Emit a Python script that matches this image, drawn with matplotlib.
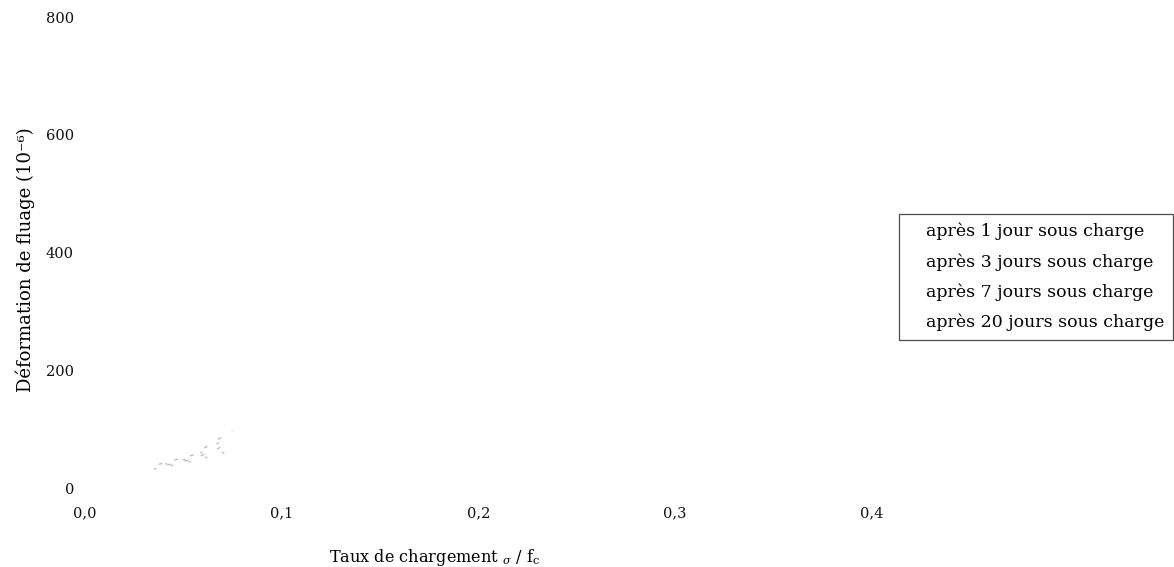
import matplotlib
matplotlib.use("Agg")
import matplotlib.pyplot as plt

plt.rcParams['font.family'] = ['DejaVu Serif']
plt.rcParams['mathtext.fontset'] = 'dejavuserif'

# taux de chargement sigma / fc
taux = [0.035, 0.055, 0.075]
# déformation de fluage (1e-6) (traits très pâles)
apres_1j = [32, 46, 64]
apres_3j = [34, 49, 78]
apres_7j = [36, 52, 90]
apres_20j = [38, 56, 98]
labels = ['après 1 jour sous charge', 'après 3 jours sous charge',
          'après 7 jours sous charge', 'après 20 jours sous charge']
xticks = [0.0, 0.1, 0.2, 0.3, 0.4]
xticklabels = ['0,0', '0,1', '0,2', '0,3', '0,4']
yticks = [0, 200, 400, 600, 800]

fig = plt.figure(figsize=(11.74, 5.67), dpi=100)
ax = fig.add_axes([0.0724, 0.1393, 0.9216, 0.8307])

styles = [(0, (2, 12)), (3, (3, 11)), (6, (2, 13)), (9, (3, 10))]
lines = []
for serie, lab, ls in zip([apres_1j, apres_3j, apres_7j, apres_20j], labels, styles):
    l, = ax.plot(taux, serie, color='#a0a0a0', lw=0.9, ls=ls, alpha=0.75, label=lab)
    lines.append(l)

ax.set_xlim(0, 0.55)
ax.set_ylim(0, 800)
for s in ax.spines.values():
    s.set_visible(False)

ax.set_xticks(xticks)
ax.set_xticklabels(xticklabels)
ax.set_yticks(yticks)
ax.tick_params(length=0, labelsize=10.5, colors='#111111')
ax.tick_params(axis='x', pad=13.5)
ax.tick_params(axis='y', pad=8)

ax.set_xlabel(r'Taux de chargement $_{\sigma}$ / f$_{\rm c}$', fontsize=11.6)
ax.xaxis.set_label_coords(0.323, -0.125)
ax.set_ylabel('Déformation de fluage (10⁻⁶)', fontsize=13)
ax.yaxis.set_label_coords(-0.046, 0.484)

leg = fig.legend(handles=lines, loc='upper right', bbox_to_anchor=(0.9995, 0.6226),
                 fontsize=12.5, frameon=True, fancybox=False, handlelength=0.6,
                 handletextpad=0.5, labelspacing=0.74, borderpad=0.5, borderaxespad=0)
leg.get_frame().set_edgecolor('#222222')
leg.get_frame().set_linewidth(0.9)
for h in leg.legend_handles:
    h.set_alpha(0)

fig.savefig('out.png', dpi=100)
